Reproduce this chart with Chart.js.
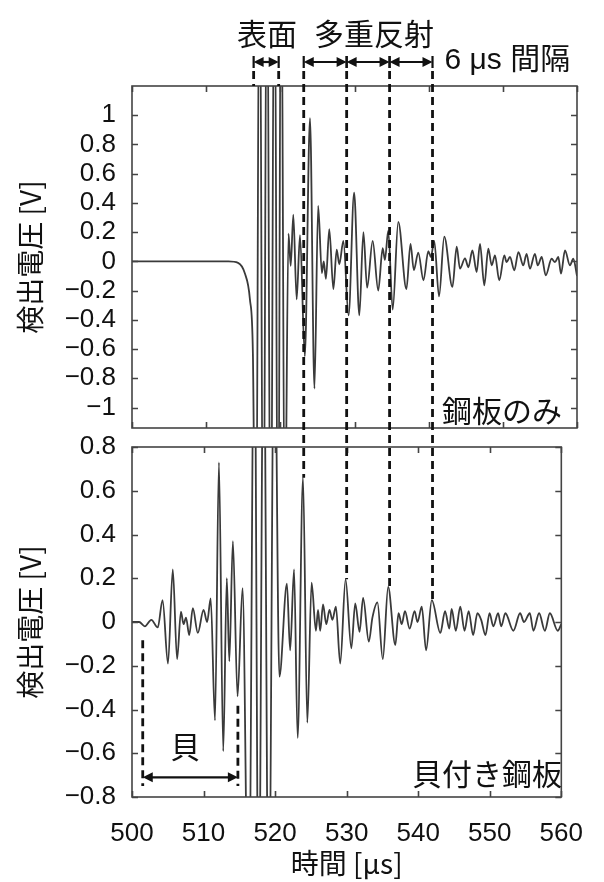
<!DOCTYPE html>
<html><head><meta charset="utf-8">
<script src="https://cdn.jsdelivr.net/npm/chart.js@4.4.0/dist/chart.umd.min.js"></script>
<style>
html,body{margin:0;padding:0;background:#fff;}
#wrap{position:relative;width:604px;height:882px;overflow:hidden;}
canvas{position:absolute;left:0;top:0;}
</style></head><body>
<div id="wrap"><canvas id="cTop" width="604" height="882"></canvas><canvas id="cBot" width="604" height="882"></canvas></div>
<script>
// ---- data (time in µs, detected voltage in V) ----
const xTicks = [500, 510, 520, 530, 540, 550, 560];
const yTopTicks = [1, 0.8, 0.6, 0.4, 0.2, 0, -0.2, -0.4, -0.6, -0.8, -1];
const yBotTicks = [0.8, 0.6, 0.4, 0.2, 0, -0.2, -0.4, -0.6, -0.8];

// 鋼板のみ (steel plate only)
const tTop = [500,505,510,513,514.3,515.2,515.9,516.3,516.7,517.2,517.7,518.2,518.7,519.2,519.7,520.1,520.6,521.1,521.4,521.75,522.2,522.65,523.3,524.0,524.6,525.1,525.6,525.85,526.15,526.6,527.15,527.6,527.95,528.5,529.2,529.95,530.65,531.2,531.7,532.45,533.2,533.8,534.1,534.55,535.15,535.9,537.0,537.55,538.0,538.6,539.3,539.95,540.3,540.75,541.4,542.1,543.2,543.78,544.22,544.9,545.35,545.9,546.47,546.92,547.5,548.04,548.5,548.94,549.52,550.2,550.5,550.96,551.55,552.1,552.76,553.2,553.65,554.33,554.7,555.24,555.78,556.58,557.03,557.48,557.84,558.38,559.05,559.5,560];
const vTop = [0,0,0,0,-0.01,-0.08,-0.26,-0.63,-2.5,2.5,-2.5,2.5,-2.5,2.5,-2.5,2.5,-2.0,0.19,-0.03,0.32,-0.26,0.18,-0.65,0.98,-0.87,0.38,-0.08,0.0,-0.12,0.22,-0.19,0.08,-0.02,0.14,-0.37,0.47,-0.37,0.2,-0.18,0.14,-0.2,0.09,0.01,0.21,-0.33,0.27,-0.19,0.12,-0.06,0.06,-0.13,0.07,0.03,0.14,-0.24,0.17,-0.175,0.1,-0.05,0.02,-0.04,0.075,-0.073,0.12,-0.164,0.087,-0.027,0.041,-0.13,0.041,-0.005,0.03,-0.061,0.064,-0.027,0.052,-0.05,0.052,-0.027,0.03,-0.096,0.018,-0.005,0.03,-0.084,0.075,-0.027,0.018,-0.1];

// 貝付き鋼板 (steel plate with shellfish)
const tBot = [500,501.0,501.8,502.7,503.6,504.27,505.03,505.7,506.3,506.84,507.2,507.55,508.0,508.5,509.2,510.0,510.5,511.0,511.6,512.15,512.75,513.25,513.6,514.1,514.75,515.45,516.3,517.1,517.7,518.4,519.1,519.9,520.6,521.65,522.1,522.65,523.15,523.9,524.5,525.1,525.7,526.0,526.3,526.7,527.15,527.6,528.0,528.5,529.1,529.85,530.65,531.2,531.8,532.3,533.1,533.6,534.3,535.05,535.8,536.8,537.25,537.7,538.15,538.8,539.5,539.9,540.5,541.1,541.9,543.1,543.75,544.35,544.67,545.26,545.88,546.47,547.05,547.68,548.27,548.8,549.4,549.97,550.5,551.17,551.6,552.18,553.3,554.24,554.78,555.6,556.1,556.9,557.7,558.4,559.5,560];
const vBot = [0,0,-0.02,0.01,-0.025,0.1,-0.19,0.24,-0.17,0.047,-0.01,0.02,-0.06,0.063,-0.05,0.055,0.0,0.108,-0.45,0.73,-0.59,0.2,-0.18,0.37,-0.34,0.155,-1.5,1.5,-1.5,1.5,-1.5,1.5,-0.25,0.175,-0.13,0.24,-0.53,0.66,-0.46,0.18,-0.04,0.055,-0.04,0.08,-0.01,0.055,0.01,0.07,-0.19,0.195,-0.12,0.085,-0.045,0.11,-0.09,0.02,0.09,-0.17,0.16,-0.105,0.04,-0.01,0.05,-0.03,0.05,0.0,0.07,-0.13,0.1,-0.05,0.05,-0.03,0.06,-0.04,0.07,-0.04,0.05,-0.06,0.04,0.01,-0.06,0.04,-0.02,0.04,-0.02,0.04,-0.04,0.04,0.0,0.04,-0.04,0.04,-0.04,0.04,-0.04,-0.01];

// annotation markers
const surfaceMarks = [517, 520.5];            // 表面
const echoMarks = [524, 530, 536, 542];       // 多重反射 (6 µs 間隔)
const echoPeakBot = [0.66, 0.195, 0.16, 0.1]; // echo peaks in lower trace
const shellMarks = [501.5, 514.8];            // 貝
const shellMarkStart = [-0.06, -0.36];
const shellArrowV = -0.71;
const shellMarkEnd = -0.75;

const NUM_FONT = "'Liberation Sans', Arial, sans-serif";
const JP_FONT = "'Noto Sans CJK JP', 'Noto Sans', sans-serif";
const INK = '#111';
Chart.defaults.color = INK;

function fmt(v) {
  const r = Math.round(v * 10) / 10;
  if (Math.abs(r) < 1e-9) return '0';
  return (r < 0 ? '\u2212' : '') + String(Math.abs(r));
}
function pts(ts, vs) { return ts.map((t, i) => ({x: t, y: vs[i]})); }

const framePlugin = {
  id: 'frame',
  afterDatasetsDraw(chart) {
    const {ctx, chartArea: {left, right, top, bottom}, scales: {x, y}} = chart;
    ctx.save();
    ctx.strokeStyle = '#444';
    ctx.lineWidth = 1.6;
    ctx.beginPath();
    x.ticks.forEach(t => {
      const px = Math.round(x.getPixelForValue(t.value)) + 0.5;
      ctx.moveTo(px, bottom); ctx.lineTo(px, bottom - 6);
      ctx.moveTo(px, top); ctx.lineTo(px, top + 6);
    });
    y.ticks.forEach(t => {
      const py = Math.round(y.getPixelForValue(t.value)) + 0.5;
      ctx.moveTo(left, py); ctx.lineTo(left + 6, py);
      ctx.moveTo(right, py); ctx.lineTo(right - 6, py);
    });
    ctx.stroke();
    ctx.strokeRect(left, top, right - left, bottom - top);
    ctx.restore();
  }
};

function yAxis(min, max, ticksArr) {
  return {
    type: 'linear', min, max, position: 'left',
    grid: {display: false, drawTicks: false},
    border: {display: false},
    afterBuildTicks: s => { s.ticks = ticksArr.map(v => ({value: v})); },
    afterFit: s => { s.width = 132; },
    ticks: {font: {family: NUM_FONT, size: 26}, padding: 16, callback: v => fmt(v), color: INK},
    title: {display: true, text: '検出電圧 [V]', font: {family: JP_FONT, size: 28}, padding: {top: 14, bottom: 0}, color: INK}
  };
}

function lineDs(data) {
  return {
    data, borderColor: '#3a3a3a', borderWidth: 1.8, pointRadius: 0,
    cubicInterpolationMode: 'monotone', fill: false
  };
}

const topChart = new Chart(document.getElementById('cTop'), {
  type: 'line',
  data: {datasets: [lineDs(pts(tTop, vTop))]},
  options: {
    responsive: false, animation: false, events: [],
    layout: {padding: {left: 0, right: 27, top: 86, bottom: 454}},
    plugins: {legend: {display: false}, tooltip: {enabled: false}},
    scales: {
      x: {
        type: 'linear', min: 500, max: 560, position: 'bottom',
        grid: {display: false, drawTicks: false}, border: {display: false},
        afterBuildTicks: s => { s.ticks = xTicks.map(v => ({value: v})); },
        ticks: {display: false},
        afterFit: s => { s.height = 0; }
      },
      y: yAxis(-1.14, 1.2, yTopTicks)
    }
  },
  plugins: [framePlugin]
});

function arrowHead(ctx, x, y, dir) {
  ctx.beginPath();
  ctx.moveTo(x, y);
  ctx.lineTo(x - dir * 10, y - 5);
  ctx.lineTo(x - dir * 10, y + 5);
  ctx.closePath();
  ctx.fill();
}
function dblArrow(ctx, x1, x2, y, bars) {
  ctx.setLineDash([]);
  ctx.lineWidth = 2.2;
  ctx.beginPath(); ctx.moveTo(x1 + 4, y); ctx.lineTo(x2 - 4, y); ctx.stroke();
  arrowHead(ctx, x1, y, -1);
  arrowHead(ctx, x2, y, 1);
  if (bars) {
    ctx.beginPath();
    ctx.moveTo(x1, y - 6); ctx.lineTo(x1, y + 6);
    ctx.moveTo(x2, y - 6); ctx.lineTo(x2, y + 6);
    ctx.stroke();
  }
}

const annotPlugin = {
  id: 'annot',
  afterDraw(chart) {
    const ctx = chart.ctx;
    const x = chart.scales.x, y = chart.scales.y;
    const yt = topChart.scales.y;
    const topTop = topChart.chartArea.top;
    const arrowY = topTop - 24;
    ctx.save();
    ctx.strokeStyle = INK; ctx.fillStyle = INK;
    // dashed guide lines
    ctx.lineWidth = 2.8;
    ctx.setLineDash([8, 5]);
    ctx.beginPath();
    surfaceMarks.forEach(t => {
      const px = x.getPixelForValue(t);
      ctx.moveTo(px, arrowY + 9); ctx.lineTo(px, topTop);
    });
    echoMarks.forEach((t, i) => {
      const px = x.getPixelForValue(t);
      ctx.moveTo(px, arrowY + 9); ctx.lineTo(px, y.getPixelForValue(echoPeakBot[i]));
    });
    shellMarks.forEach((t, i) => {
      const px = x.getPixelForValue(t);
      ctx.moveTo(px, y.getPixelForValue(shellMarkStart[i]) + 5); ctx.lineTo(px, y.getPixelForValue(shellMarkEnd));
    });
    ctx.stroke();
    // arrows
    dblArrow(ctx, x.getPixelForValue(surfaceMarks[0]), x.getPixelForValue(surfaceMarks[1]), arrowY, true);
    for (let i = 0; i < echoMarks.length - 1; i++) {
      dblArrow(ctx, x.getPixelForValue(echoMarks[i]), x.getPixelForValue(echoMarks[i + 1]), arrowY, true);
    }
    dblArrow(ctx, x.getPixelForValue(shellMarks[0]), x.getPixelForValue(shellMarks[1]), y.getPixelForValue(shellArrowV), false);
    // texts
    ctx.textBaseline = 'middle';
    ctx.font = `30px ${JP_FONT}`;
    ctx.textAlign = 'center';
    ctx.fillText('表面', 267, topTop - 52);
    ctx.fillText('多重反射', 374, topTop - 52);
    ctx.fillText('貝', (x.getPixelForValue(shellMarks[0]) + x.getPixelForValue(shellMarks[1])) / 2 - 5, y.getPixelForValue(-0.57));
    ctx.textAlign = 'left';
    ctx.font = `30px 'Liberation Sans', 'Noto Sans CJK JP', sans-serif`;
    ctx.fillText('6 \u03bcs 間隔', x.getPixelForValue(echoMarks[3]) + 12, arrowY - 1);
    ctx.textAlign = 'right';
    ctx.font = `30px ${JP_FONT}`;
    ctx.fillText('鋼板のみ', 562, yt.getPixelForValue(-1.02));
    ctx.fillText('貝付き鋼板', 562, y.getPixelForValue(-0.695));
    ctx.restore();
  }
};

const botChart = new Chart(document.getElementById('cBot'), {
  type: 'line',
  data: {datasets: [lineDs(pts(tBot, vBot))]},
  options: {
    responsive: false, animation: false, events: [],
    layout: {padding: {left: 0, right: 27, top: 447, bottom: 0}},
    plugins: {legend: {display: false}, tooltip: {enabled: false}},
    scales: {
      x: {
        type: 'linear', min: 500, max: 560, position: 'bottom',
        grid: {display: false, drawTicks: false}, border: {display: false},
        afterBuildTicks: s => { s.ticks = xTicks.map(v => ({value: v})); },
        ticks: {font: {family: NUM_FONT, size: 26}, padding: 21, maxRotation: 0, autoSkip: false, color: INK, callback: v => String(v)},
        title: {display: true, text: '時間 [μs]', font: {family: JP_FONT, size: 28}, padding: {top: 0, bottom: 2}, color: INK},
        afterFit: s => { s.height = 85; }
      },
      y: yAxis(-0.8, 0.8, yBotTicks)
    }
  },
  plugins: [framePlugin, annotPlugin]
});
</script></body></html>
